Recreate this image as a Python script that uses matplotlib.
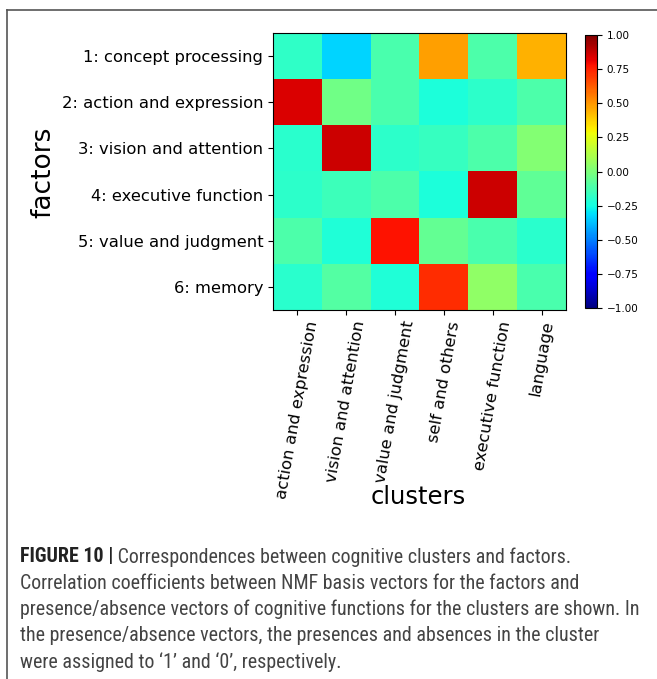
import numpy as np
import matplotlib
matplotlib.use("Agg")
import matplotlib.pyplot as plt
from matplotlib.lines import Line2D

factors = ["1: concept processing", "2: action and expression", "3: vision and attention",
           "4: executive function", "5: value and judgment", "6: memory"]
clusters = ["action and expression", "vision and attention", "value and judgment",
            "self and others", "executive function", "language"]

# correlation values (jet, -1..1)
corr = np.array([
    [-0.18, -0.33, -0.12, 0.48, -0.11, 0.44],
    [0.84, -0.03, -0.12, -0.23, -0.19, -0.11],
    [-0.20, 0.86, -0.19, -0.17, -0.11, 0.02],
    [-0.19, -0.15, -0.11, -0.23, 0.86, -0.07],
    [-0.11, -0.22, 0.78, -0.06, -0.12, -0.20],
    [-0.20, -0.10, -0.22, 0.72, 0.05, -0.12],
])
cbar_ticks = [-1.0, -0.75, -0.5, -0.25, 0.0, 0.25, 0.5, 0.75, 1.0]

caption_bold = "FIGURE 10 |"
caption_first = " Correspondences between cognitive clusters and factors."
caption_rest = [
    "Correlation coefficients between NMF basis vectors for the factors and",
    "presence/absence vectors of cognitive functions for the clusters are shown. In",
    "the presence/absence vectors, the presences and absences in the cluster",
    "were assigned to \u20181\u2019 and \u20180\u2019, respectively.",
]

W, H = 657, 679
fig = plt.figure(figsize=(W / 100, H / 100), dpi=100)

ax = fig.add_axes([273 / W, 1 - 310 / H, 293 / W, 277 / H])
im = ax.imshow(corr, cmap="jet", vmin=-1, vmax=1, aspect="auto")
ax.set_yticks(range(len(factors)))
ax.set_yticklabels(factors, fontsize=11.8)
ax.set_xticks(range(len(clusters)))
ax.set_xticklabels(clusters, fontsize=11.8, rotation=80)
ax.set_ylabel("factors", fontsize=19)
ax.set_xlabel("clusters", fontsize=17.5)
ax.xaxis.set_label_coords(0.495, -0.632)
ax.yaxis.set_label_coords(-0.74, 0.498)

cax = fig.add_axes([585 / W, 1 - 308 / H, 12 / W, 273 / H])
cb = fig.colorbar(im, cax=cax, ticks=cbar_ticks)
cb.ax.set_yticklabels([("%.2f" % t).replace("-", "\u2212") for t in cbar_ticks], fontsize=7.5)

# frame around the figure panel (clipped at right/bottom)
fig.add_artist(Line2D([7 / W, 1.0], [1 - 10 / H, 1 - 10 / H], color="#555", lw=1.2))
fig.add_artist(Line2D([7 / W, 7 / W], [1 - 10 / H, 0.0], color="#555", lw=1.2))

cap_font = ["Roboto Condensed", "Liberation Sans"]
x0 = 20 / W
y0 = 1 - 557 / H
step = 26.3 / H
t1 = fig.text(x0, y0, caption_bold, fontsize=14.4, fontweight="bold",
              family=cap_font, color="#222", va="center")
fig.canvas.draw()
bb = t1.get_window_extent()
fig.text(bb.x1 / W, y0, caption_first, fontsize=14.4,
         family=cap_font, color="#444", va="center")
for i, line in enumerate(caption_rest):
    fig.text(x0, y0 - (i + 1) * step, line, fontsize=14.4,
             family=cap_font, color="#444", va="center")

fig.savefig("out.png", dpi=100)
